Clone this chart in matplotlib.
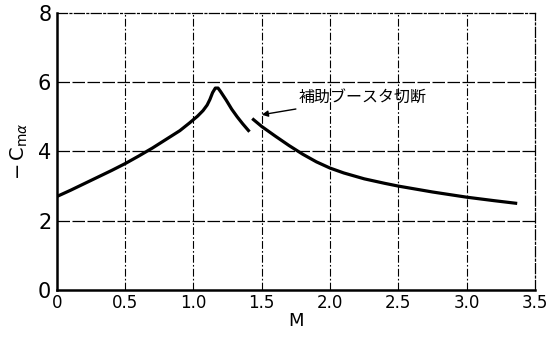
#!/usr/bin/env python3
"""Pitch damping derivative -Cm_alpha versus Mach number."""

import matplotlib

matplotlib.use("Agg")
import matplotlib.pyplot as plt

plt.rcParams["font.family"] = ["DejaVu Sans", "Noto Sans CJK JP"]

# rising branch up to the peak, then down to booster separation
mach_before = [0.0, 0.1, 0.2, 0.3, 0.4, 0.5, 0.6, 0.7, 0.8, 0.9, 0.97, 1.03, 1.07,
               1.1, 1.12, 1.14, 1.16, 1.18, 1.2, 1.24, 1.28, 1.32, 1.36, 1.41]
cma_before = [2.7, 2.88, 3.07, 3.26, 3.45, 3.65, 3.87, 4.1, 4.35, 4.6, 4.82, 5.02, 5.18,
              5.34, 5.5, 5.7, 5.83, 5.83, 5.72, 5.48, 5.22, 5.0, 4.8, 4.57]

# after the booster is cut
mach_after = [1.43, 1.5, 1.6, 1.7, 1.8, 1.9, 2.0, 2.1, 2.25, 2.4, 2.5, 2.75, 3.0, 3.2, 3.37]
cma_after = [4.95, 4.72, 4.44, 4.17, 3.92, 3.7, 3.52, 3.38, 3.21, 3.08, 3.0, 2.83, 2.68, 2.58, 2.5]

x_ticks = [0, 0.5, 1.0, 1.5, 2.0, 2.5, 3.0, 3.5]
x_labels = ["0", "0.5", "1.0", "1.5", "2.0", "2.5", "3.0", "3.5"]
y_ticks = [0, 2, 4, 6, 8]
note = "補助ブースタ切断"


def main() -> int:
    fig = plt.figure(figsize=(5.47, 3.49), dpi=100)
    ax = fig.add_axes([0.104, 0.169, 0.874, 0.794])

    ax.plot(mach_before, cma_before, color="black", lw=2.3,
            solid_capstyle="butt", solid_joinstyle="round")
    ax.plot(mach_after, cma_after, color="black", lw=2.3,
            solid_capstyle="butt", solid_joinstyle="round")

    ax.set_xlim(0, 3.5)
    ax.set_ylim(0, 8)
    ax.set_xticks(x_ticks)
    ax.set_xticklabels(x_labels, fontsize=12)
    ax.set_yticks(y_ticks)
    ax.set_yticklabels([str(v) for v in y_ticks], fontsize=15)
    ax.tick_params(length=0, pad=3)
    ax.tick_params(axis="y", pad=4)

    dash = (0, (7, 2, 1.5, 2))
    for x in x_ticks[1:-1]:
        ax.axvline(x, color="black", lw=0.8, ls=dash)
    for y in y_ticks[1:-1]:
        ax.axhline(y, color="black", lw=0.9, ls=(0, (10, 2)))

    for side in ("top", "right"):
        ax.spines[side].set_linestyle((0, (8, 2, 1.5, 2)))
        ax.spines[side].set_linewidth(0.9)
    for side in ("left", "bottom"):
        ax.spines[side].set_linewidth(1.8)

    ax.annotate(
        note,
        xy=(1.5, 5.06),
        xytext=(1.77, 5.55),
        fontsize=11.5,
        family=["Noto Sans CJK JP", "DejaVu Sans"],
        va="center",
        ha="left",
        arrowprops=dict(arrowstyle="-|>", color="black", lw=1.0, mutation_scale=9,
                        shrinkA=0, shrinkB=0),
    )

    ax.set_xlabel("M", fontsize=13, labelpad=0)
    ax.set_ylabel(r"$-\,\mathrm{C}_{\mathrm{m}\alpha}$", fontsize=14, labelpad=6)

    fig.savefig("out.png", dpi=100)
    plt.close(fig)
    return 0


if __name__ == "__main__":
    raise SystemExit(main())
